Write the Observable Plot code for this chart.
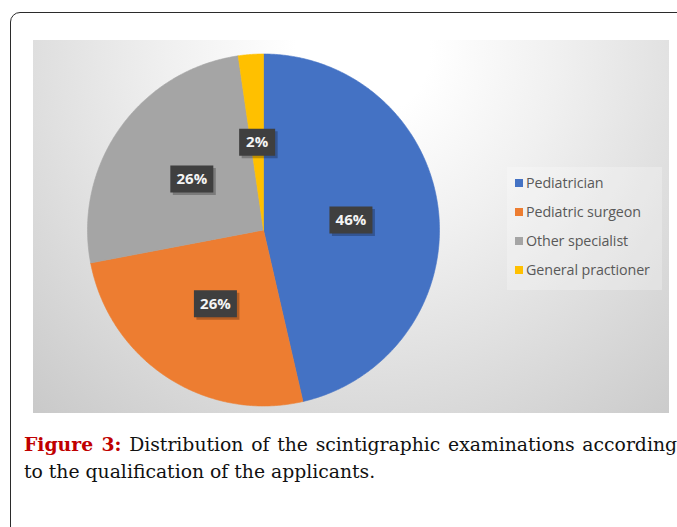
<!DOCTYPE html>
<html>
<head>
<meta charset="utf-8">
<script src="https://cdn.jsdelivr.net/npm/d3@7"></script>
<script src="https://cdn.jsdelivr.net/npm/@observablehq/plot@0.6"></script>
<style>
  html, body { margin: 0; padding: 0; background: #fff; width: 677px; height: 527px; overflow: hidden; }
  #frame { position: absolute; left: 10px; top: 12px; width: 720px; height: 600px;
    border: 1.5px solid #2b2b2b; border-top-left-radius: 10px; box-sizing: border-box; }
  #panel { position: absolute; left: 33px; top: 40px; width: 636px; height: 373px;
    background: radial-gradient(circle 560px at 330px 10px, #ffffff 0%, #ffffff 12%, #f0f0f0 35%, #c0c0c0 100%); }
  #panel svg { position: absolute; left: 0; top: 0; background: transparent; }
  #legend { position: absolute; left: 474px; top: 127px; width: 155px; height: 123px;
    background: rgba(255,255,255,0.25); }
  .item { position: absolute; left: 0; height: 18px; font-family: "Open Sans", sans-serif;
    font-size: 14.3px; color: #595959; letter-spacing: -0.1px; white-space: nowrap; line-height: 18px; }
  .sw { position: absolute; left: 8px; top: 5px; width: 8px; height: 8px; }
  .lbl { position: absolute; left: 19px; top: 0; }
  #caption { position: absolute; left: 24px; top: 430px; width: 653px; font-family: "DejaVu Serif", serif;
    font-size: 18.8px; color: #111; }
  #caption .l1 { text-align: justify; text-align-last: justify; height: 28px; line-height: 28px; white-space: nowrap; }
  #caption .l2 { height: 28px; line-height: 28px; }
  #caption b { color: #c00000; }
</style>
</head>
<body>
<div id="frame"></div>
<div id="panel"><div id="legend"></div></div>
<div id="caption">
  <div class="l1"><b>Figure 3:</b> Distribution of the scintigraphic examinations according</div>
  <div class="l2">to the qualification of the applicants.</div>
</div>
<script>
const categories = ["Pediatrician", "Pediatric surgeon", "Other specialist", "General practioner"];
const values = [46.4, 25.6, 25.7, 2.3];
const labels = ["46%", "26%", "26%", "2%"];
const colors = ["#4472c4", "#ed7d31", "#a5a5a5", "#ffc000"];

// Pie geometry from the values (angles measured clockwise from 12 o'clock)
const total = d3.sum(values);
const slices = [];
let acc = 0;
categories.forEach((name, i) => {
  const a0 = acc / total * 2 * Math.PI;
  acc += values[i];
  const a1 = acc / total * 2 * Math.PI;
  slices.push({name, a0, a1, label: labels[i]});
});
const piePts = [];
for (const s of slices) {
  piePts.push({name: s.name, x: 0, y: 0});
  const n = Math.max(4, Math.ceil((s.a1 - s.a0) / (Math.PI / 360)));
  for (let k = 0; k <= n; k++) {
    const a = s.a0 + (s.a1 - s.a0) * k / n;
    piePts.push({name: s.name, x: Math.sin(a), y: Math.cos(a)});
  }
  piePts.push({name: s.name, x: 0, y: 0});
}
const labelPts = slices.map(s => {
  const m = (s.a0 + s.a1) / 2;
  return {name: s.name, label: s.label, x: 0.5 * Math.sin(m), y: 0.5 * Math.cos(m)};
});

const boxSymbol = {
  draw(context, size) {
    const w = Math.sqrt(size / Math.PI);
    const h = 13.5;
    context.moveTo(-w, -h); context.lineTo(w, -h); context.lineTo(w, h); context.lineTo(-w, h); context.closePath();
  }
};

const cx = 230, cy = 189.5, R = 176;
const chart = Plot.plot({
  width: 636,
  height: 373,
  margin: 0,
  style: {background: "transparent"},
  x: {domain: [-1, 1], range: [cx - R, cx + R], axis: null},
  y: {domain: [-1, 1], range: [cy + R, cy - R], axis: null},
  color: {domain: categories, range: colors},
  r: {type: "identity"},
  marks: [
    Plot.line(piePts, {x: "x", y: "y", z: "name", fill: "name", stroke: "name", strokeWidth: 0.6, curve: "linear"}),
    Plot.dot(labelPts, {x: "x", y: "y", symbol: boxSymbol, r: d => d.label.length > 2 ? 21.5 : 18,
      fill: "#000", fillOpacity: 0.25, stroke: "none", dx: 2.5, dy: 2.5}),
    Plot.dot(labelPts, {x: "x", y: "y", symbol: boxSymbol, r: d => d.label.length > 2 ? 21.5 : 18,
      fill: "#3f3f3f", stroke: "none"}),
    Plot.text(labelPts, {x: "x", y: "y", text: "label", fill: "#f4f4f4", fontWeight: "bold",
      fontSize: 15, fontFamily: "Open Sans, sans-serif"})
  ]
});
document.getElementById("panel").prepend(chart);

const legend = document.getElementById("legend");
const rowTops = [7, 36, 65, 94];
categories.forEach((c, i) => {
  const d = document.createElement("div");
  d.className = "item";
  d.style.top = rowTops[i] + "px";
  d.innerHTML = `<span class="sw" style="background:${colors[i]}"></span><span class="lbl">${c}</span>`;
  legend.appendChild(d);
});
</script>
</body>
</html>
